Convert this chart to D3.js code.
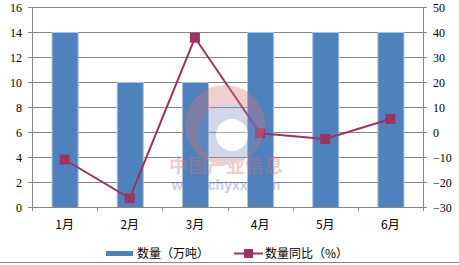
<!DOCTYPE html>
<html>
<head>
<meta charset="utf-8">
<script src="https://cdnjs.cloudflare.com/ajax/libs/d3/7.8.5/d3.min.js"></script>
<style>
  body { margin: 0; background: #fff; }
  svg { display: block; }
  text { font-family: "Liberation Serif", "Noto Sans CJK SC", serif; font-size: 12px; fill: #000; }
  .cjk { font-family: "Noto Sans CJK SC", sans-serif; }
</style>
</head>
<body>
<svg id="chart" width="459" height="265"></svg>
<script>
const months = ['1月', '2月', '3月', '4月', '5月', '6月'];
const amount = [14, 10, 10, 14, 14, 14];
const yoy = [-11, -26.5, 37.7, -0.5, -2.8, 5.2];
const leftTicks = [0, 2, 4, 6, 8, 10, 12, 14, 16];
const rightTicks = [-30, -20, -10, 0, 10, 20, 30, 40, 50];

const svg = d3.select('#chart');
const plotL = 32, plotR = 423, plotT = 7, plotB = 207;
const barColor = '#4f81bd';
const lineColor = '#9a3563';
const gridColor = '#868686';

const x = d3.scaleBand().domain(months).range([plotL, plotR]).paddingInner(0.6).paddingOuter(0.3);
const xBand = d3.scaleBand().domain(months).range([plotL, plotR]);
const yL = d3.scaleLinear().domain([0, 16]).range([plotB, plotT]);
const yR = d3.scaleLinear().domain([-30, 50]).range([plotB, plotT]);

// gridlines with outward ticks on the left
svg.append('g')
    .selectAll('line').data(leftTicks).enter().append('line')
    .attr('x1', plotL - 4).attr('x2', plotR)
    .attr('y1', d => yL(d) + 0.5).attr('y2', d => yL(d) + 0.5)
    .attr('stroke', gridColor).attr('stroke-width', 1);

svg.append('g')
    .selectAll('line').data(rightTicks).enter().append('line')
    .attr('x1', plotR).attr('x2', plotR + 4)
    .attr('y1', d => yR(d) + 0.5).attr('y2', d => yR(d) + 0.5)
    .attr('stroke', gridColor);

svg.append('g')
    .selectAll('text').data(leftTicks).enter().append('text')
    .attr('x', plotL - 10).attr('y', d => yL(d) + 4.5)
    .attr('text-anchor', 'end')
    .text(d => d);

svg.append('g')
    .selectAll('text').data(rightTicks).enter().append('text')
    .attr('x', plotR + 10).attr('y', d => yR(d) + 4.5)
    .text(d => d < 0 ? '\u2212' + Math.abs(d) : d);

// bars
svg.append('g')
    .selectAll('rect').data(amount).enter().append('rect')
    .attr('x', (d, i) => x(months[i]) + 0.5)
    .attr('y', d => yL(d) + 0.5)
    .attr('width', x.bandwidth())
    .attr('height', d => yL(0) - yL(d))
    .attr('fill', barColor)
    .attr('stroke', '#a9c1e0').attr('stroke-width', 1);

// axes lines
svg.append('line').attr('x1', plotL + 0.5).attr('x2', plotL + 0.5).attr('y1', plotT).attr('y2', plotB + 4)
    .attr('stroke', gridColor);
svg.append('line').attr('x1', plotR + 0.5).attr('x2', plotR + 0.5).attr('y1', plotT).attr('y2', plotB + 4)
    .attr('stroke', gridColor);
svg.append('line').attr('x1', plotL).attr('x2', plotR).attr('y1', plotB + 0.5).attr('y2', plotB + 0.5)
    .attr('stroke', gridColor);
svg.append('g')
    .selectAll('line').data(months.slice(1)).enter().append('line')
    .attr('x1', d => Math.round(xBand(d)) + 0.5).attr('x2', d => Math.round(xBand(d)) + 0.5)
    .attr('y1', plotB).attr('y2', plotB + 4)
    .attr('stroke', gridColor);

svg.append('g')
    .selectAll('text').data(months).enter().append('text')
    .attr('class', 'cjk')
    .attr('x', d => xBand(d) + xBand.bandwidth() / 2)
    .attr('y', 229)
    .attr('text-anchor', 'middle')
    .text(d => d);

// line series
const line = d3.line()
    .x((d, i) => xBand(months[i]) + xBand.bandwidth() / 2)
    .y(d => yR(d));

svg.append('path').datum(yoy)
    .attr('d', line)
    .attr('fill', 'none').attr('stroke', lineColor).attr('stroke-width', 2);

svg.append('g')
    .selectAll('rect').data(yoy).enter().append('rect')
    .attr('x', (d, i) => xBand(months[i]) + xBand.bandwidth() / 2 - 5)
    .attr('y', d => yR(d) - 5)
    .attr('width', 10).attr('height', 10)
    .attr('fill', lineColor);

// watermark (drawn over the chart)
const wm = svg.append('g').attr('opacity', 0.35);
wm.append('circle').attr('cx', 225).attr('cy', 125).attr('r', 40).attr('fill', '#d77a7a');
wm.append('circle').attr('cx', 228).attr('cy', 133).attr('r', 30).attr('fill', '#7f8fc0');
wm.append('circle').attr('cx', 232).attr('cy', 135).attr('r', 16).attr('fill', '#ffffff');
wm.append('text').attr('class', 'cjk').attr('x', 226).attr('y', 173)
    .attr('text-anchor', 'middle').style('font-size', '19px').style('font-weight', 'bold')
    .style('fill', '#e07070').text('中国产业信息');
wm.append('text').attr('x', 226).attr('y', 190)
    .attr('text-anchor', 'middle').style('font-family', 'Liberation Sans, sans-serif')
    .style('font-size', '14px').style('font-weight', 'bold')
    .style('fill', '#5a78c0').text('www.chyxx.com');

// legend
const leg = svg.append('g');
leg.append('rect').attr('x', 106).attr('y', 251).attr('width', 27).attr('height', 5).attr('fill', barColor);
leg.append('text').attr('class', 'cjk').attr('x', 137).attr('y', 258).text('数量（万吨）');
leg.append('line').attr('x1', 234).attr('x2', 263).attr('y1', 253.5).attr('y2', 253.5)
    .attr('stroke', lineColor).attr('stroke-width', 2);
leg.append('rect').attr('x', 244).attr('y', 249).attr('width', 9).attr('height', 9).attr('fill', lineColor);
leg.append('text').attr('class', 'cjk').attr('x', 265).attr('y', 258).text('数量同比（%）');

svg.append('line').attr('x1', 0).attr('x2', 459).attr('y1', 262.5).attr('y2', 262.5)
    .attr('stroke', gridColor);
</script>
</body>
</html>
